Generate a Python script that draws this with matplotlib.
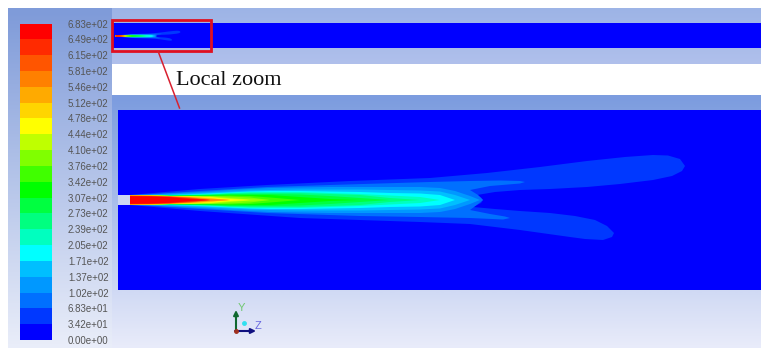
import numpy as np
import matplotlib
matplotlib.use("Agg")
import matplotlib.pyplot as plt
from matplotlib.colors import ListedColormap, BoundaryNorm, LinearSegmentedColormap
from matplotlib.patches import Rectangle
from matplotlib.transforms import Affine2D

W, H = 761, 348

# colour scale
levels = [0, 34.2, 68.3, 102, 137, 171, 205, 239, 273, 307, 342, 376, 410, 444, 478, 512, 546, 581, 615, 649, 683]
tick_labels = ["0.00e+00", "3.42e+01", "6.83e+01", "1.02e+02", "1.37e+02", "1.71e+02", "2.05e+02",
               "2.39e+02", "2.73e+02", "3.07e+02", "3.42e+02", "3.76e+02", "4.10e+02", "4.44e+02",
               "4.78e+02", "5.12e+02", "5.46e+02", "5.81e+02", "6.15e+02", "6.49e+02", "6.83e+02"]
band_colors = ["#0000ff", "#0038ff", "#0070ff", "#0098ff", "#00bfff", "#00ffff", "#00ffbf", "#00ff80",
               "#00ff40", "#00ff00", "#40ff00", "#80ff00", "#bfff00", "#ffff00", "#ffd500", "#ffaa00",
               "#ff8000", "#ff5500", "#ff2a00", "#ff0000"]

# outer contours of the plume, domain pixels
plume1_x = [130, 200, 267, 350, 430, 487, 540, 587, 625, 653, 668, 680, 685, 682, 672, 653, 620, 587, 550, 520, 495, 477,
            481, 483, 481, 473, 495, 520, 550, 575, 595, 607, 614, 612, 603, 585, 570, 520, 470, 420, 360, 300, 200, 130]
plume1_y = [195, 189, 185, 181, 178, 173, 167, 161, 157, 155, 155.5, 159, 166, 171, 176, 180, 184, 187, 189, 190, 192, 195,
            197.5, 200, 203, 207, 209, 211, 213, 216, 220, 226, 233, 237, 240, 239, 237, 230, 224, 222, 220, 218, 211, 205]
plume2_x = [130, 200, 267, 330, 430, 470, 500, 520, 525, 520, 490, 470, 478, 483, 478, 470, 490, 505, 510, 503, 470, 420, 360, 267, 200, 130]
plume2_y = [195.5, 191, 187, 185, 182, 181, 180.5, 181, 182, 183.5, 186, 190, 195, 200, 204, 210, 214, 216.5, 218, 219.5, 218, 217, 216, 213, 209, 204.5]

# half widths of the inner contours along the jet axis
stations = [130, 150, 170, 190, 210, 230, 250, 270, 300, 330, 360, 390, 420, 440, 455, 470, 480]
band3_hw = [5, 5.5, 6.5, 7.5, 8.5, 10, 11, 12, 12.5, 13, 13, 13, 13, 12, 9, 4, 0]
band4_hw = [5, 5, 5.5, 6.5, 7.5, 8.5, 9.5, 10, 10.5, 10.5, 10.5, 10, 9.5, 8.5, 5, 0, 0]
band5_hw = [5, 5, 5, 5.5, 6.5, 7.5, 8.5, 9, 9, 8.5, 8, 7, 6.5, 5, 0, 0, 0]
band6_hw = [5, 4.5, 4.5, 5, 6, 7, 8, 8, 8, 7, 6, 4.5, 3, 0, 0, 0, 0]
band7_hw = [5, 4.5, 4.5, 5, 5.5, 6.5, 7, 7, 7, 6, 5, 2, 0, 0, 0, 0, 0]
band8_hw = [5, 4.5, 4.5, 4.5, 5, 6, 6, 6, 5.5, 4, 2, 0, 0, 0, 0, 0, 0]
band9_hw = [4.8, 4.5, 4, 4.5, 4.5, 5, 5, 5, 3, 1, 0, 0, 0, 0, 0, 0, 0]
band10_hw = [4.8, 4.5, 4, 4, 4, 4.5, 4, 2.5, 0, 0, 0, 0, 0, 0, 0, 0, 0]
band11_hw = [4.8, 4.5, 4, 4, 4, 3.5, 2.5, 0, 0, 0, 0, 0, 0, 0, 0, 0, 0]
band12_hw = [4.8, 4.5, 4, 3.8, 3.5, 2, 0.5, 0, 0, 0, 0, 0, 0, 0, 0, 0, 0]
band13_hw = [4.8, 4.5, 4, 3.5, 2.8, 1, 0, 0, 0, 0, 0, 0, 0, 0, 0, 0, 0]
band14_hw = [4.8, 4.5, 4, 3.5, 2.2, 0, 0, 0, 0, 0, 0, 0, 0, 0, 0, 0, 0]
band15_hw = [4.6, 4.4, 3.8, 3, 1.5, 0, 0, 0, 0, 0, 0, 0, 0, 0, 0, 0, 0]
band16_hw = [4.4, 4.2, 3.6, 2.6, 0.8, 0, 0, 0, 0, 0, 0, 0, 0, 0, 0, 0, 0]
band17_hw = [4.2, 4, 3.4, 2.2, 0, 0, 0, 0, 0, 0, 0, 0, 0, 0, 0, 0, 0]
band18_hw = [4, 3.8, 3.2, 1.8, 0, 0, 0, 0, 0, 0, 0, 0, 0, 0, 0, 0, 0]
band19_hw = [3.8, 3.6, 2.8, 1, 0, 0, 0, 0, 0, 0, 0, 0, 0, 0, 0, 0, 0]
inner_bands = [(3, band3_hw), (4, band4_hw), (5, band5_hw), (6, band6_hw), (7, band7_hw), (8, band8_hw),
               (9, band9_hw), (10, band10_hw), (11, band11_hw), (12, band12_hw), (13, band13_hw), (14, band14_hw),
               (15, band15_hw), (16, band16_hw), (17, band17_hw), (18, band18_hw), (19, band19_hw)]

fig = plt.figure(figsize=(W / 100, H / 100), dpi=100, facecolor="white")
ax = fig.add_axes([0, 0, 1, 1])
ax.set_xlim(0, W)
ax.set_ylim(H, 0)
ax.axis("off")


def vgrad(x0, x1, y0, y1, c0, c1, z=1):
    cm = LinearSegmentedColormap.from_list("g", [c0, c1])
    ax.imshow(np.linspace(0, 1, 64)[:, None], extent=(x0, x1, y1, y0), cmap=cm, aspect="auto",
              zorder=z, interpolation="bilinear")


# window backgrounds
vgrad(8, 113, 8, 348, "#7f9bd9", "#e9edf9")
vgrad(112, W, 8, 64, "#9db4e6", "#b0c0ec")
vgrad(112, W, 95, 348, "#7c9cdf", "#e8ebfa")
ax.set_xlim(0, W)
ax.set_ylim(H, 0)


def draw_plume(trans):
    ax.fill(plume1_x, plume1_y, color=band_colors[1], lw=0, zorder=3, transform=trans)
    ax.fill(plume2_x, plume2_y, color=band_colors[2], lw=0, zorder=3.1, transform=trans)
    xs = np.array(stations, float)
    for idx, hw in inner_bands:
        hw = np.array(hw, float)
        ax.fill(np.r_[xs, xs[::-1]], np.r_[200 - hw, (200 + hw)[::-1]], color=band_colors[idx], lw=0,
                zorder=3 + idx / 10, transform=trans)


# main domain
ax.add_patch(Rectangle((118, 110), W - 118, 180, color="#0000ff", lw=0, zorder=2))
ax.add_patch(Rectangle((118, 195), 12, 10, color="#cdd6f2", lw=0, zorder=2.5))
draw_plume(ax.transData)

# local overview band with the same plume, reduced
ax.add_patch(Rectangle((113, 23), W - 113, 25, color="#0000ff", lw=0, zorder=2))
small = Affine2D().translate(-130, -200).scale(0.117, 0.117).translate(115.5, 36) + ax.transData
draw_plume(small)

# white gap
ax.add_patch(Rectangle((112, 64), W - 112, 31, color="white", lw=0, zorder=2))

# callout
ax.add_patch(Rectangle((112, 19.5), 99, 31.5, fill=False, ec="#e01020", lw=2, zorder=6))
ax.plot([158, 179.5], [51, 108], color="#d82030", lw=1.1, zorder=6)
ax.text(176.5, 80.5, "Local zoom", family="Liberation Serif", fontsize=16, color="#111111",
        va="center", ha="left", zorder=7)

# colour bar
cax = fig.add_axes([20 / W, 1 - 340 / H, 32 / W, 316.5 / H])
cax.pcolormesh([0, 1], levels, np.array(levels[:-1])[:, None], cmap=ListedColormap(band_colors),
               norm=BoundaryNorm(levels, 20))
cax.set_xticks([])
cax.set_ylim(0, 683)
cax.yaxis.tick_right()
cax.set_yticks(levels)
cax.set_yticklabels(tick_labels, family="Liberation Sans", fontsize=7, color="#555555")
cax.tick_params(axis="y", length=0, pad=11.5)
for s in cax.spines.values():
    s.set_visible(False)

# axis triad
ax.annotate("", xy=(236, 310), xytext=(236, 332), zorder=6,
            arrowprops=dict(arrowstyle="-|>", color="#106830", lw=1.5, mutation_scale=7, shrinkA=0, shrinkB=0))
ax.annotate("", xy=(256, 331), xytext=(235, 331), zorder=6,
            arrowprops=dict(arrowstyle="-|>", color="#101080", lw=1.5, mutation_scale=7, shrinkA=0, shrinkB=0))
ax.plot([236], [331], "o", ms=2.5, color="#a03020", zorder=7)
ax.plot([244], [323], "o", ms=2.5, color="#30e0f0", zorder=7)
ax.text(241, 308, "Y", color="#70c870", fontsize=8, family="Liberation Sans", ha="center", va="center", zorder=7)
ax.text(258, 326, "Z", color="#6868e0", fontsize=8, family="Liberation Sans", ha="center", va="center", zorder=7)

fig.savefig("out.png", dpi=100)
